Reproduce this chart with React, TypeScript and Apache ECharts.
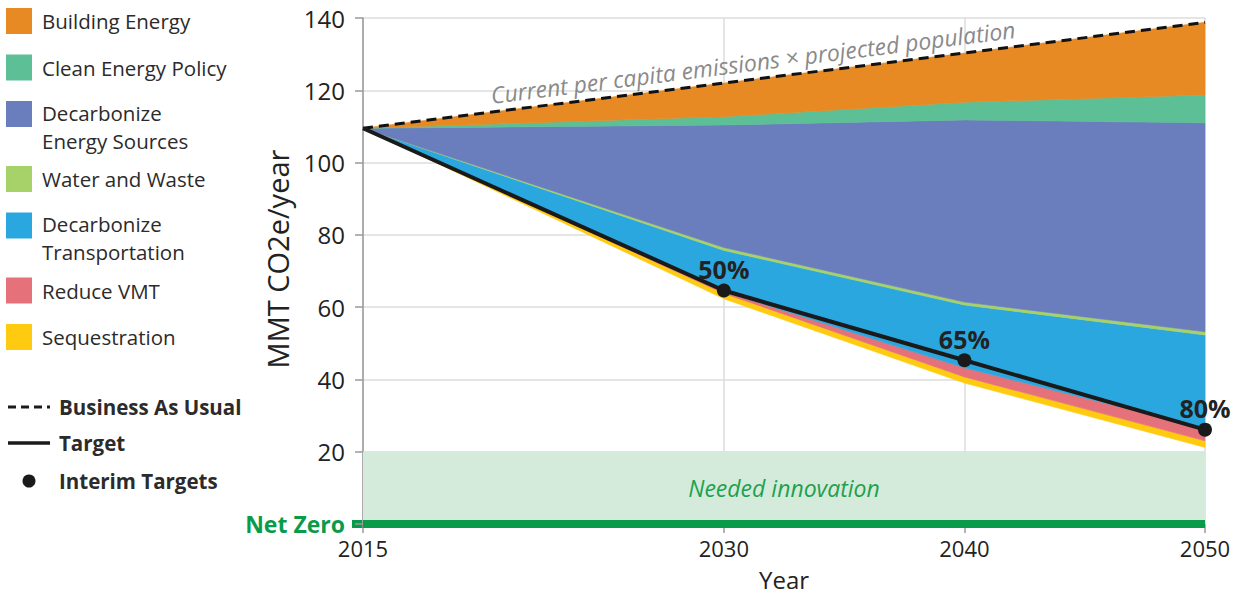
import React, { useEffect, useRef } from "react";
import * as echarts from "echarts";

// ---- data ----
const years = [2015, 2030, 2040, 2050];
const tickYears = [2015, 2030, 2040, 2050];
const remaining = [109.5, 62.3, 39.0, 21.2];
const sequestration = [0, 1.5, 1.7, 1.8];
const reduceVMT = [0, 0.5, 2.5, 3.5];
const decarbTransport = [0, 11.4, 17.4, 25.8];
const waterWaste = [0, 0.8, 0.8, 0.9];
const decarbEnergy = [0, 33.9, 50.4, 57.8];
const cleanEnergy = [0, 2.3, 4.9, 7.7];
const buildingEnergy = [0, 9.3, 13.6, 20.1];
const businessAsUsual = [109.5, 122.0, 130.3, 138.8];
const target = [109.5, 64.6, 45.3, 26.1];
const targetLabels = ["", "50%", "65%", "80%"];

const layerNames = [
  "Sequestration",
  "Reduce VMT",
  "Decarbonize Transportation",
  "Water and Waste",
  "Decarbonize Energy Sources",
  "Clean Energy Policy",
  "Building Energy",
];
const layerValues = [
  sequestration,
  reduceVMT,
  decarbTransport,
  waterWaste,
  decarbEnergy,
  cleanEnergy,
  buildingEnergy,
];
const layerColors = [
  "#FECB10",
  "#E5727A",
  "#2BA7DF",
  "#A7D26A",
  "#6A7EBE",
  "#5CBF96",
  "#E88A24",
];

const legendLabels = [
  ["Building Energy"],
  ["Clean Energy Policy"],
  ["Decarbonize", "Energy Sources"],
  ["Water and Waste"],
  ["Decarbonize", "Transportation"],
  ["Reduce VMT"],
  ["Sequestration"],
];
const legendColors = [
  "#E88A24",
  "#5CBF96",
  "#6A7EBE",
  "#A7D26A",
  "#2BA7DF",
  "#E5727A",
  "#FECB10",
];

const FONT = "Open Sans";
const GREEN = "#0a9b4a";

export default function App() {
  const ref = useRef<HTMLDivElement>(null);

  useEffect(() => {
    if (!ref.current) return;
    const chart = echarts.init(ref.current, null, { renderer: "svg" });

    // cumulative stacking of the reduction wedges on top of remaining emissions
    let running = remaining.slice();
    const layerSeries: any[] = layerNames.map((name, k) => {
      const bottom = running.slice();
      const top = bottom.map((b, i) => b + layerValues[k][i]);
      running = top;
      const color = layerColors[k];
      return {
        name,
        type: "custom",
        data: years.map((y, i) => [y, bottom[i], top[i]]),
        encode: { x: 0, y: [1, 2] },
        z: 3,
        renderItem: (params: any, api: any) => {
          if (params.dataIndex !== 0) return null;
          const pts: number[][] = [];
          for (let j = 0; j < years.length; j++) pts.push(api.coord([years[j], top[j]]));
          for (let j = years.length - 1; j >= 0; j--) pts.push(api.coord([years[j], bottom[j]]));
          return {
            type: "polygon",
            shape: { points: pts },
            style: { fill: color, stroke: color, lineWidth: 0.6 },
          };
        },
      };
    });

    // legend graphics
    const legendGraphics: any[] = [];
    let top = 8;
    legendLabels.forEach((lines, i) => {
      legendGraphics.push({
        type: "rect",
        shape: { x: 6, y: top, width: 26, height: 26 },
        style: { fill: legendColors[i] },
      });
      lines.forEach((line, li) => {
        legendGraphics.push({
          type: "text",
          x: 42,
          y: top + (lines.length === 2 ? 11.5 : 13) + li * 28,
          style: {
            text: line,
            fontSize: 20.5,
            fontFamily: FONT,
            fill: "#2b2b2b",
            verticalAlign: "middle",
            align: "left",
          },
        });
      });
      top += lines.length === 2 ? 65 : 46.5;
    });
    const lineLegend = [
      { label: "Business As Usual", y: 407, kind: "dash" },
      { label: "Target", y: 443, kind: "solid" },
      { label: "Interim Targets", y: 481, kind: "dot" },
    ];
    lineLegend.forEach((it) => {
      if (it.kind === "dot") {
        legendGraphics.push({
          type: "circle",
          shape: { cx: 29, cy: it.y, r: 6.5 },
          style: { fill: "#1a1a1a" },
        });
      } else {
        legendGraphics.push({
          type: "line",
          shape: { x1: 8, y1: it.y, x2: 50, y2: it.y },
          style: {
            stroke: "#1a1a1a",
            lineWidth: it.kind === "dash" ? 3 : 3.5,
            lineDash: it.kind === "dash" ? [8, 5] : null,
          },
        });
      }
      legendGraphics.push({
        type: "text",
        x: 59,
        y: it.y,
        style: {
          text: it.label,
          fontSize: 20.5,
          fontWeight: "bold",
          fontFamily: FONT,
          fill: "#2b2b2b",
          verticalAlign: "middle",
          align: "left",
        },
      });
    });

    const option: any = {
      animation: false,
      textStyle: { fontFamily: FONT },
      grid: {
        left: 363,
        right: 29,
        top: 18,
        bottom: 71,
        containLabel: false,
        outerBoundsMode: "none",
      },
      xAxis: {
        type: "value",
        min: 2015,
        max: 2050,
        name: "Year",
        nameLocation: "middle",
        nameGap: 42,
        nameTextStyle: { fontSize: 24, lineHeight: 26, color: "#222", fontFamily: FONT },
        axisLine: { show: false },
        axisTick: {
          show: true,
          customValues: tickYears,
          length: 9,
          lineStyle: { color: "#9a9a9a", width: 1.5 },
        },
        axisLabel: {
          customValues: tickYears,
          fontSize: 22,
          color: "#222",
          margin: 13,
          fontFamily: FONT,
          formatter: (v: number) => String(v),
        },
        splitLine: { show: true, lineStyle: { color: "#dcdcdc", width: 1.5 } },
      },
      yAxis: {
        type: "value",
        min: 0,
        max: 140,
        interval: 20,
        axisLine: { show: true, lineStyle: { color: "#9a9a9a", width: 1.5 } },
        axisTick: { show: true, length: 8, lineStyle: { color: "#9a9a9a", width: 1.5 } },
        axisLabel: {
          fontSize: 24,
          color: "#222",
          margin: 18,
          fontFamily: FONT,
          formatter: (v: number) => (v === 0 ? "{nz|Net Zero}" : String(v)),
          rich: {
            nz: { color: GREEN, fontWeight: "bold", fontSize: 23, fontFamily: FONT },
          },
        },
        splitLine: { show: true, lineStyle: { color: "#dcdcdc", width: 1.5 } },
      },
      series: [
        ...layerSeries,
        {
          name: "Business As Usual",
          type: "line",
          data: years.map((y, i) => [y, businessAsUsual[i]]),
          symbol: "none",
          lineStyle: { color: "#111", width: 3, type: [10, 6] },
          z: 5,
          markArea: {
            silent: true,
            z: 1,
            itemStyle: { color: "#d4ebdc" },
            label: {
              show: true,
              position: "inside",
              color: "#1fa04f",
              fontStyle: "italic",
              fontSize: 23,
              fontFamily: FONT,
            },
            data: [[{ name: "Needed innovation", coord: [2015, 0] }, { coord: [2050, 20] }]],
          },
          markLine: {
            silent: true,
            symbol: "none",
            label: { show: false },
            lineStyle: { color: GREEN, width: 8, type: "solid" },
            data: [{ yAxis: 0 }],
          },
        },
        {
          name: "Target",
          type: "line",
          data: years.map((y, i) => ({
            value: [y, target[i]],
            symbol: i === 0 ? "none" : "circle",
            label: { show: i > 0, formatter: targetLabels[i] },
          })),
          symbolSize: 14,
          lineStyle: { color: "#1a1a1a", width: 4 },
          itemStyle: { color: "#1a1a1a" },
          label: {
            position: "top",
            distance: 2,
            fontSize: 25,
            fontWeight: "bold",
            color: "#222",
            fontFamily: FONT,
          },
          z: 6,
        },
      ],
      graphic: [
        ...legendGraphics,
        {
          type: "text",
          x: 277,
          y: 259,
          rotation: Math.PI / 2,
          style: {
            text: "MMT CO2e/year",
            fontSize: 29,
            fontFamily: FONT,
            fill: "#222",
            align: "center",
            verticalAlign: "middle",
          },
        },
        {
          type: "text",
          x: 753,
          y: 62,
          rotation: 0.1253,
          z: 10,
          style: {
            text: "Current per capita emissions \u00d7 projected population",
            fontSize: 23,
            fontStyle: "italic",
            fontFamily: FONT,
            fill: "#8a8a8a",
            align: "center",
            verticalAlign: "middle",
          },
        },
        {
          type: "rect",
          shape: { x: 352, y: 520, width: 12, height: 8 },
          style: { fill: GREEN },
        },
      ],
    };

    chart.setOption(option);
    return () => chart.dispose();
  }, []);

  return (
    <div
      ref={ref}
      style={{ position: "fixed", left: 0, top: 0, width: 1234, height: 595, background: "#fff" }}
    />
  );
}
